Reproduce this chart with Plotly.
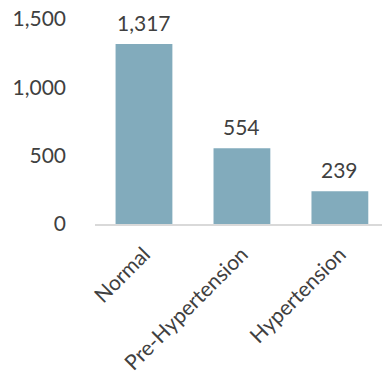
import plotly.graph_objects as go

categories = ["Normal", "Pre-Hypertension", "Hypertension"]
counts = [1317, 554, 239]
y_ticks = [0, 500, 1000, 1500]
y_tick_labels = ["0", "500", "1,000", "1,500"]

bar_color = "#82ABBC"
text_color = "#404040"
font_family = "Lato, 'Liberation Sans', sans-serif"
font_size = 21

fig = go.Figure(
    go.Bar(
        x=categories,
        y=counts,
        marker=dict(color=bar_color, line=dict(width=0)),
        width=0.58,
        hoverinfo="skip",
    )
)

# value labels above each bar
for cat, val in zip(categories, counts):
    fig.add_annotation(
        x=cat, y=val, text=f"{val:,}", showarrow=False,
        yanchor="bottom", yshift=7,
        font=dict(family=font_family, size=font_size, color=text_color),
    )

fig.update_layout(
    width=382, height=375,
    margin=dict(l=95, r=0, t=19, b=151),
    paper_bgcolor="white", plot_bgcolor="white",
    showlegend=False,
    font=dict(family=font_family, size=font_size, color=text_color),
)
fig.update_xaxes(
    range=[-0.5, 2.43],
    tickangle=-45,
    showgrid=False,
    showline=True, linecolor="#D9D9D9", linewidth=1.5,
    ticks="", ticklabelstandoff=8,
    tickfont=dict(family=font_family, size=font_size, color=text_color),
)
fig.update_yaxes(
    range=[0, 1500],
    tickvals=y_ticks, ticktext=y_tick_labels,
    showgrid=False, zeroline=False, showline=False,
    ticks="", ticklabelstandoff=28,
    tickfont=dict(family=font_family, size=font_size, color=text_color),
)

fig.write_html("out.html")
